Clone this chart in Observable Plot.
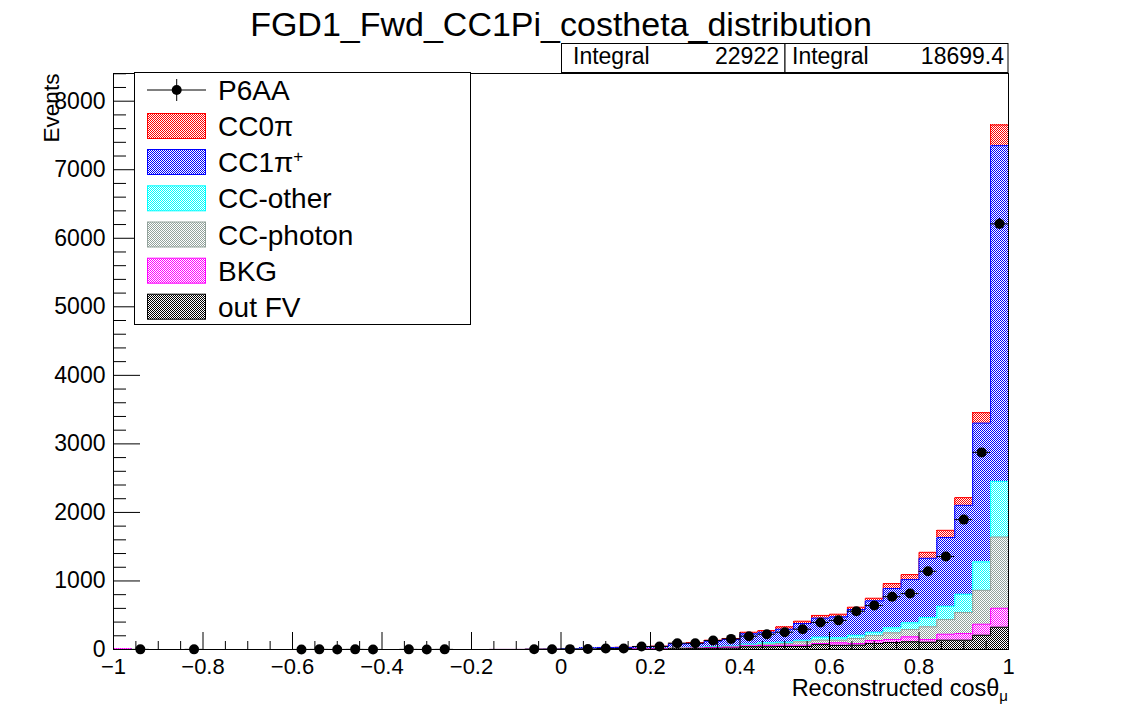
<!DOCTYPE html>
<html>
<head>
<meta charset="utf-8">
<script src="https://cdn.jsdelivr.net/npm/d3@7"></script>
<script src="https://cdn.jsdelivr.net/npm/@observablehq/plot@0.6"></script>
<style>
  html, body { margin: 0; padding: 0; background: #fff; }
  #wrap { position: relative; width: 1121px; height: 722px; font-family: "Liberation Sans", Arial, Helvetica, sans-serif; }
  #wrap > svg { position: absolute; left: 0; top: 0; }
  #overlay { pointer-events: none; }
</style>
</head>
<body>
<div id="wrap"></div>
<script>
// ---------- data ----------
const binLo = [-1, -0.96, -0.92, -0.88, -0.84, -0.8, -0.76, -0.72, -0.68, -0.64,
  -0.6, -0.56, -0.52, -0.48, -0.44, -0.4, -0.36, -0.32, -0.28, -0.24,
  -0.2, -0.16, -0.12, -0.08, -0.04, 0, 0.04, 0.08, 0.12, 0.16,
  0.2, 0.24, 0.28, 0.32, 0.36, 0.4, 0.44, 0.48, 0.52, 0.56,
  0.6, 0.64, 0.68, 0.72, 0.76, 0.8, 0.84, 0.88, 0.92, 0.96];
const binWidth = 0.04;

// stack components, listed bottom -> top
const outFV = [0,0,0,0,0, 0,0,0,0,0, 0,0,0,0,0, 0,0,0,0,0, 0,0,0,0,0,
  1,1,2,2,4,5,10,12,18,20,39,39,44,44,70,60,63,87,102,111,106,136,136,208,325];
const bkg = [8,0,0,0,0, 0,0,0,0,0, 0,0,0,0,0, 0,0,0,0,0, 0,0,0,1,1,
  1,2,2,3,4,5,6,8,10,14,14,19,19,19,17,37,24,44,44,73,40,87,97,161,277];
const ccPhoton = [0,0,0,0,0, 0,0,0,0,0, 0,0,0,0,0, 0,0,0,0,0, 0,0,0,0,1,
  1,2,2,3,4,4,6,8,8,10,10,20,24,48,49,39,73,73,96,108,184,214,306,495,1039];
const ccOther = [0,0,0,0,0, 0,0,0,0,0, 0,0,0,0,0, 0,0,0,0,0, 0,0,0,0,0,
  1,1,2,2,2,3,4,5,6,6,15,19,20,25,44,33,48,48,73,96,136,194,267,413,812];
const cc1pi = [0,0,0,0,0, 0,0,0,0,0, 0,0,0,0,0, 0,0,0,0,0, 0,1,1,2,3,
  10,16,20,20,26,28,56,54,79,96,150,155,189,243,278,306,375,457,574,632,865,1002,1297,2026,4898];
const cc0pi = [0,0,0,0,0, 0,0,0,0,0, 0,0,0,0,0, 0,0,0,0,0, 0,0,0,1,1,
  1,7,2,3,4,5,8,13,15,15,24,25,34,34,39,40,34,39,73,73,87,106,113,152,302];
const dataP6AA = [0,2,0,0,2,0,0,0,0,0, 1,2,1,2,1,0,2,1,2,0, 0,0,0,3,3,
  5,6,15,15,44,44,92,92,131,155,194,223,252,296,395,425,558,641,770,816,1141,1356,1895,2876,6210];

const seriesNames = ["out FV", "BKG", "CC-photon", "CC-other", "CC1π⁺", "CC0π"];
const seriesValues = [outFV, bkg, ccPhoton, ccOther, cc1pi, cc0pi];
const seriesColors = ["#000000", "#ff00ff", "#93a39c", "#00ffff", "#0000ff", "#ff0000"];

const yMax = 8404;
const xMajor = [-1, -0.8, -0.6, -0.4, -0.2, 0, 0.2, 0.4, 0.6, 0.8, 1];
const xTickLabels = ["−1", "−0.8", "−0.6", "−0.4", "−0.2", "0", "0.2", "0.4", "0.6", "0.8", "1"];
const yMajor = [0, 1000, 2000, 3000, 4000, 5000, 6000, 7000, 8000];
const yTickLabels = ["0", "1000", "2000", "3000", "4000", "5000", "6000", "7000", "8000"];
const xMinor = d3.range(-1, 1.0001, 0.05).map(v => Math.round(v * 100) / 100).filter(v => !xMajor.includes(v));
const yMinor = d3.range(0, yMax, 200).filter(v => v % 1000 !== 0);

const integralMC = "22922";
const integralData = "18699.4";

// ---------- derived tables ----------
const rows = binLo.map((lo, i) => {
  const cum = [];
  let s = 0;
  for (let j = 0; j < seriesValues.length; j++) { s += seriesValues[j][i]; cum.push(s); }
  return {lo, hi: lo + binWidth, mid: lo + binWidth / 2, cum, data: dataP6AA[i]};
});

function outline(j) {
  const pts = [{x: binLo[0], y: 0}];
  rows.forEach(r => pts.push({x: r.lo, y: r.cum[j]}));
  pts.push({x: rows[rows.length - 1].hi, y: 0});
  return pts;
}

const histMarks = [];
for (let j = seriesValues.length - 1; j >= 0; j--) {
  histMarks.push(Plot.rectY(rows, {x1: "lo", x2: "hi", y1: 0, y2: d => d.cum[j], fill: `url(#pat${j})`, shapeRendering: "crispEdges"}));
  histMarks.push(Plot.line(outline(j), {x: "x", y: "y", curve: "step-after", stroke: seriesColors[j], strokeWidth: 1}));
}

const pts = rows.filter(r => r.data > 0);
const xLab = new Map(xMajor.map((v, i) => [v, xTickLabels[i]]));
const yLab = new Map(yMajor.map((v, i) => [v, yTickLabels[i]]));

const plot = Plot.plot({
  width: 1121, height: 722,
  marginLeft: 113, marginRight: 113, marginTop: 73, marginBottom: 73,
  style: {fontFamily: '"Liberation Sans", Arial, Helvetica, sans-serif', background: "white", color: "black", overflow: "visible"},
  x: {domain: [-1, 1]},
  y: {domain: [0, yMax]},
  marks: [
    ...histMarks,
    Plot.ruleY(pts, {x1: "lo", x2: "hi", y: "data", stroke: "black", strokeWidth: 1}),
    Plot.ruleX(pts, {x: "mid", y1: d => d.data - Math.sqrt(d.data), y2: d => d.data + Math.sqrt(d.data), stroke: "black", strokeWidth: 1}),
    Plot.dot(pts, {x: "mid", y: "data", r: 5, fill: "black", stroke: null}),
    Plot.frame({stroke: "black", strokeWidth: 1}),
    // ticks (inside the frame, ROOT style)
    Plot.axisX(xMajor, {tickSize: 17, dy: -17, tickFormat: () => "", stroke: "black"}),
    Plot.axisX(xMinor, {tickSize: 8, dy: -8, tickFormat: () => "", stroke: "black"}),
    Plot.axisY(yMajor, {tickSize: 27, dx: 27, tickFormat: () => "", stroke: "black"}),
    Plot.axisY(yMinor, {tickSize: 13, dx: 13, tickFormat: () => "", stroke: "black"}),
    // labels
    Plot.axisX(xMajor, {tickSize: 0, tickPadding: 9, fontSize: 22, fill: "black", tickFormat: d => xLab.get(d)}),
    Plot.axisY(yMajor, {tickSize: 0, tickPadding: 8, fontSize: 23, fill: "black", tickFormat: d => yLab.get(d)}),
    Plot.text(["Events"], {frameAnchor: "top-left", rotate: -90, textAnchor: "end", lineAnchor: "bottom", dx: -55, fontSize: 22.6, fill: "black"})
  ]
});

// hatch patterns (ROOT-like checkerboard fill)
const ns = "http://www.w3.org/2000/svg";
const defs = document.createElementNS(ns, "defs");
defs.innerHTML = seriesColors.map((c, j) =>
  `<pattern id="pat${j}" width="2" height="2" patternUnits="userSpaceOnUse">` +
  `<rect width="2" height="2" fill="white"/>` +
  `<rect x="0" y="0" width="1" height="1" fill="${c}"/>` +
  `<rect x="1" y="1" width="1" height="1" fill="${c}"/></pattern>`).join("");
plot.insertBefore(defs, plot.firstChild);

const wrap = document.getElementById("wrap");
wrap.appendChild(plot);

// ---------- overlay: title, stats boxes, legend, x title ----------
const font = '"Liberation Sans", Arial, Helvetica, sans-serif';
const legendRows = [90, 126, 162, 198.3, 234.5, 270.7, 306.7];
let legend = `<rect x="134.5" y="72.5" width="336" height="252" fill="white" stroke="black"/>`;
// data entry
legend += `<line x1="147" x2="206" y1="${legendRows[0]}" y2="${legendRows[0]}" stroke="black"/>` +
  `<line x1="176.7" x2="176.7" y1="${legendRows[0] - 11}" y2="${legendRows[0] + 11}" stroke="black"/>` +
  `<circle cx="176.7" cy="${legendRows[0]}" r="5" fill="black"/>` +
  `<text x="218" y="${legendRows[0] + 10}" font-size="28">P6AA</text>`;
const legendOrder = [5, 4, 3, 2, 1, 0];
legendOrder.forEach((j, k) => {
  const cy = legendRows[k + 1];
  legend += `<rect x="147.5" y="${cy - 12.5}" width="58" height="25" fill="url(#pat${j})" stroke="${seriesColors[j]}"/>`;
  let label = seriesNames[j];
  if (label === "CC1π⁺") label = `CC1π<tspan font-size="17" dy="-10">+</tspan>`;
  legend += `<text x="218" y="${cy + 10}" font-size="28">${label}</text>`;
});

const overlay = document.createElementNS(ns, "svg");
overlay.setAttribute("id", "overlay");
overlay.setAttribute("width", 1121);
overlay.setAttribute("height", 722);
overlay.setAttribute("font-family", font);
overlay.innerHTML =
  `<text x="561" y="36" text-anchor="middle" font-size="34">FGD1_Fwd_CC1Pi_costheta_distribution</text>` +
  `<rect x="561.5" y="43.5" width="223.5" height="29" fill="white" stroke="black"/>` +
  `<rect x="785" y="43.5" width="223" height="29" fill="white" stroke="black"/>` +
  `<text x="573" y="63.5" font-size="23">Integral</text>` +
  `<text x="779" y="63.5" font-size="23" text-anchor="end">${integralMC}</text>` +
  `<text x="792" y="63.5" font-size="23">Integral</text>` +
  `<text x="1004" y="63.5" font-size="23" text-anchor="end">${integralData}</text>` +
  legend +
  `<text x="1008" y="696" font-size="23.5" text-anchor="end">Reconstructed cosθ<tspan font-size="15" dy="5">μ</tspan></text>`;
wrap.appendChild(overlay);
</script>
</body>
</html>
